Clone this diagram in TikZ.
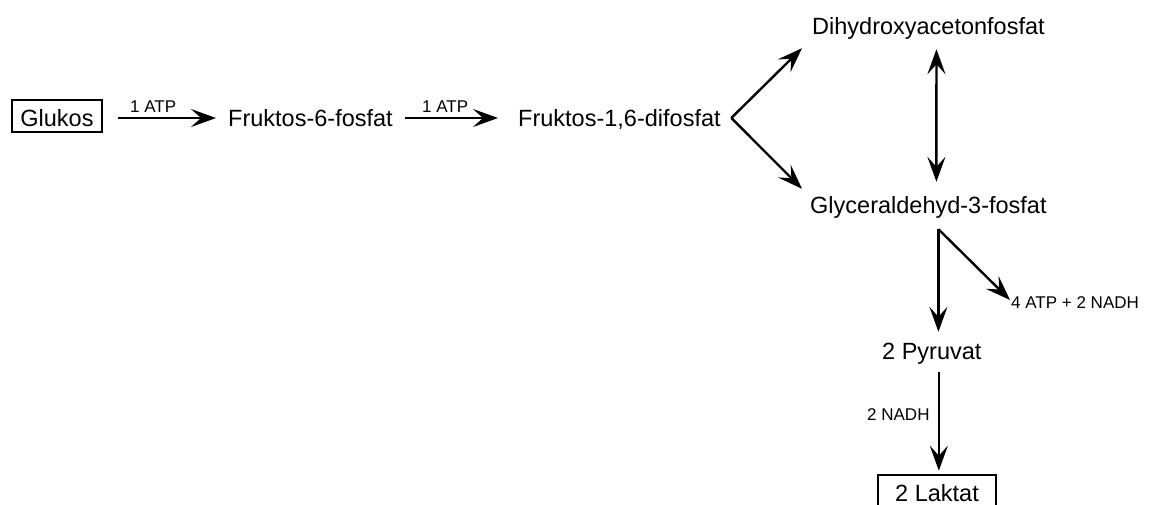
\documentclass[tikz,border=0pt]{standalone}
\usepackage{fontspec}
\setmainfont{Liberation Sans}
\usetikzlibrary{arrows.meta,calc}
\begin{document}
\begin{tikzpicture}[x=1pt,y=1pt,
  met/.style={inner sep=0pt, anchor=base west, text height=16pt, text depth=0pt,
              font=\fontsize{23.5}{28}\selectfont},
  lab/.style={inner sep=0pt, anchor=base west, text height=12pt, text depth=0pt,
              font=\fontsize{17}{20}\selectfont},
  endbox/.style={draw, line width=2.6pt, anchor=base, inner xsep=0pt, inner ysep=6pt,
                 text height=20pt, text depth=0pt, font=\fontsize{23.5}{28}\selectfont},
  arr/.style={line width=2.4pt, -{Stealth[length=25pt,width=18pt,inset=10pt]}},
  darr/.style={line width=2.4pt, {Stealth[length=25pt,width=18pt,inset=10pt]}-{Stealth[length=25pt,width=18pt,inset=10pt]}}
]
\clip (0,0) rectangle (1149,-504);

% metabolites
\node[endbox, minimum width=90pt] (glu) at (57,-126) {Glukos};
\node[met] (f6)   at (228,-126) {Fruktos-6-fosfat};
\node[met] (f16)  at (518,-126) {Fruktos-1,6-difosfat};
\node[met] (dhap) at (812,-34)  {Dihydroxyacetonfosfat};
\node[met] (gap)  at (810,-213) {Glyceraldehyd-3-fosfat};
\node[met] (pyr)  at (882,-359) {2 Pyruvat};
\node[endbox, minimum width=118pt] (lak) at (937,-501) {2 Laktat};

% cofactor labels
\node[lab] (atpa) at (130,-112) {1 ATP};
\node[lab] (atpb) at (422,-112) {1 ATP};
\node[lab] (gain) at (1011,-308) {4 ATP + 2 NADH};
\node[lab] (nadh) at (867,-420) {2 NADH};

% upper row
\draw[arr] ([xshift=15pt]f6.west -| glu.east) -- ([xshift=-12pt]f6.west);
\draw[arr] ([xshift=12.5pt]f6.east) -- ([xshift=-20pt]f16.west);

% split into the two triose phosphates
\coordinate (fork) at ([xshift=10.5pt]f16.east);
\draw[arr] (fork) -- ([shift={(-10pt,-14pt)}]dhap.south west);
\draw[arr] (fork) -- ([shift={(-8pt,8pt)}]gap.north west);
\draw[darr, shorten <=15pt, shorten >=15pt] ([xshift=8pt]dhap.south) -- ([xshift=8pt]gap.north);

% to pyruvate and energy yield
\coordinate (split) at ([shift={(10pt,-16pt)}]gap.south);
\draw[arr] (split) -- ([yshift=11pt]split |- pyr.north);
\draw[arr] (split) -- ([shift={(-1pt,2pt)}]gain.west);

% to lactate
\coordinate (pyrout) at ([shift={(7pt,-13pt)}]pyr.south);
\draw[arr] (pyrout) -- ([yshift=3pt]pyrout |- lak.north);
\end{tikzpicture}
\end{document}
